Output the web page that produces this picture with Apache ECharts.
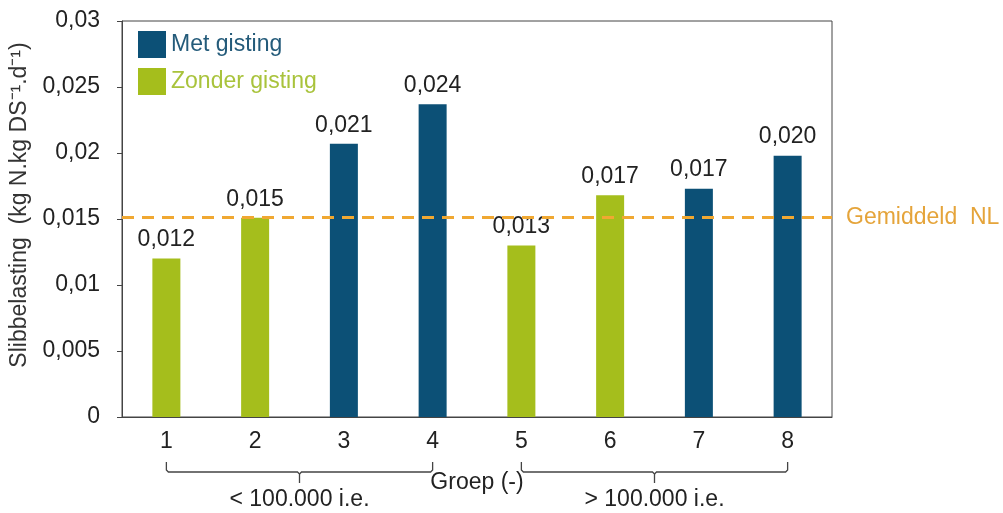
<!DOCTYPE html>
<html>
<head>
<meta charset="utf-8">
<script src="https://cdn.jsdelivr.net/npm/echarts@6/dist/echarts.min.js"></script>
<style>
  html, body { margin: 0; padding: 0; background: #fff; }
  #chart { width: 1003px; height: 513px; }
</style>
</head>
<body>
<div id="chart"></div>
<script>
// Slibbelasting per groep, met en zonder gisting
const groups = ['1', '2', '3', '4', '5', '6', '7', '8'];
const metGisting = [null, null, 0.0207, 0.0237, null, null, 0.0173, 0.0198];
const zonderGisting = [0.0120, 0.0151, null, null, 0.0130, 0.0168, null, null];
const gemiddeldNL = 0.0151;
const sizeClasses = [
  { label: '< 100.000 i.e.', from: '1', to: '4' },
  { label: '> 100.000 i.e.', from: '5', to: '8' }
];

const FONT = '"Liberation Sans", Arial, sans-serif';
const FS = 23;
const BLUE = '#0c5076';
const GREEN = '#a5be1c';
const ORANGE = '#f0a832';

const fmt = v => (v == null ? '' : String(+(+v).toFixed(3)).replace('.', ','));
const fmt3 = v => (+v).toFixed(3).replace('.', ',');

const chart = echarts.init(document.getElementById('chart'), null, { renderer: 'canvas' });

const barLabel = {
  show: true,
  position: 'top',
  distance: 7,
  color: '#222',
  fontFamily: FONT,
  fontSize: FS,
  formatter: p => fmt3(p.value)
};

chart.setOption({
  backgroundColor: '#fff',
  animation: false,
  grid: {
    left: 122, right: 171, top: 21, bottom: 96,
    outerBoundsMode: 'none', containLabel: false,
    show: true, borderColor: '#444', borderWidth: 1, backgroundColor: 'transparent'
  },
  legend: {
    left: 133, top: 26, orient: 'vertical',
    icon: 'rect',
    itemWidth: 28, itemHeight: 27, itemGap: 10,
    textStyle: { fontFamily: FONT, fontSize: FS, padding: [0, 0, 0, 0] },
    data: [
      { name: 'Met gisting', textStyle: { color: '#245b7a' } },
      { name: 'Zonder gisting', textStyle: { color: '#a9c33c' } }
    ]
  },
  xAxis: {
    type: 'category',
    data: groups,
    axisLine: { lineStyle: { color: '#444' } },
    axisTick: { show: false },
    axisLabel: { color: '#222', fontFamily: FONT, fontSize: FS, margin: 13 }
  },
  yAxis: {
    type: 'value',
    min: 0, max: 0.03, interval: 0.005,
    name: 'Slibbelasting  (kg N.kg DS⁻¹.d⁻¹)',
    nameLocation: 'middle',
    nameGap: 87,
    nameTextStyle: { color: '#333', fontFamily: FONT, fontSize: FS, padding: [0, 0, 0, 28] },
    axisLine: { show: true, lineStyle: { color: '#444' } },
    axisTick: { show: true, length: 5, lineStyle: { color: '#444' } },
    splitLine: { show: false },
    axisLabel: { color: '#222', fontFamily: FONT, fontSize: FS, margin: 22, formatter: fmt }
  },
  series: [
    {
      name: 'Met gisting', type: 'bar', data: metGisting,
      barWidth: 28, barGap: '-100%',
      itemStyle: { color: BLUE },
      label: barLabel
    },
    {
      name: 'Zonder gisting', type: 'bar', data: zonderGisting,
      barWidth: 28,
      itemStyle: { color: GREEN },
      label: barLabel,
      markLine: {
        silent: true, symbol: 'none', precision: 4,
        lineStyle: { color: ORANGE, type: [12, 8], width: 3 },
        label: {
          show: true, position: 'end', distance: 14,
          color: '#e5a43a', fontFamily: FONT, fontSize: FS,
          formatter: 'Gemiddeld  NL'
        },
        data: [{ yAxis: gemiddeldNL }]
      }
    }
  ]
});

// Brackets under the category axis grouping the size classes
function drawBrackets() {
  const baseY = chart.convertToPixel({ yAxisIndex: 0 }, 0);
  const top = baseY + 45, mid = baseY + 55, tip = baseY + 66;
  const elements = [];
  sizeClasses.forEach(sc => {
    const x1 = chart.convertToPixel({ xAxisIndex: 0 }, sc.from);
    const x2 = chart.convertToPixel({ xAxisIndex: 0 }, sc.to);
    const cx = (x1 + x2) / 2;
    elements.push({
      type: 'polyline',
      shape: { points: [[x1, top], [x1, mid - 2], [x1 + 2, mid], [cx - 2, mid], [cx, mid + 2], [cx, tip]] },
      style: { stroke: '#444', lineWidth: 1.3, fill: null }
    });
    elements.push({
      type: 'polyline',
      shape: { points: [[x2, top], [x2, mid - 2], [x2 - 2, mid], [cx + 2, mid], [cx, mid + 2]] },
      style: { stroke: '#444', lineWidth: 1.3, fill: null }
    });
    elements.push({
      type: 'text', x: cx, y: baseY + 83,
      style: { text: sc.label, fill: '#222', font: FS + 'px ' + FONT, align: 'center', verticalAlign: 'middle' }
    });
  });
  const x4 = chart.convertToPixel({ xAxisIndex: 0 }, sizeClasses[0].to);
  const x5 = chart.convertToPixel({ xAxisIndex: 0 }, sizeClasses[1].from);
  elements.push({
    type: 'text', x: (x4 + x5) / 2, y: baseY + 66,
    style: { text: 'Groep (-)', fill: '#222', font: FS + 'px ' + FONT, align: 'center', verticalAlign: 'middle' }
  });
  chart.setOption({ graphic: { elements } });
}
drawBrackets();
</script>
</body>
</html>
